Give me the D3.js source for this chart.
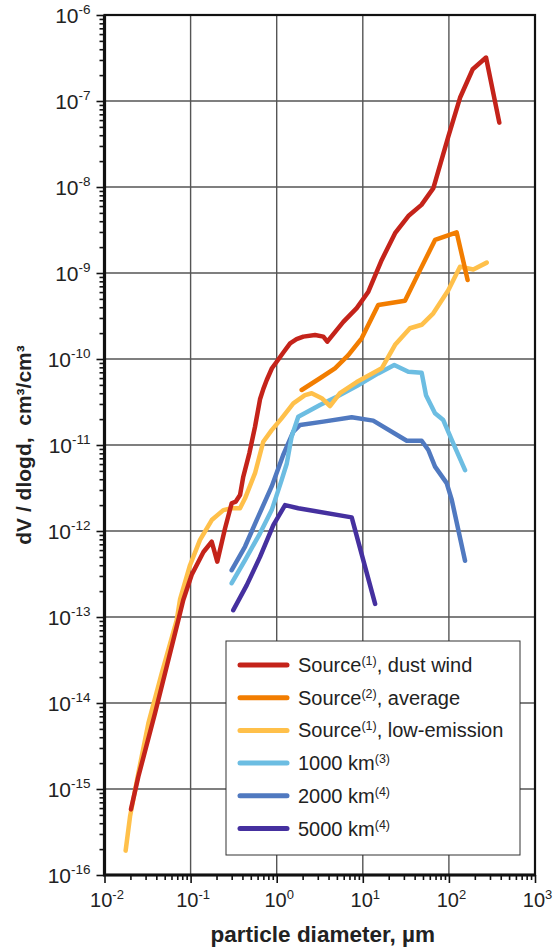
<!DOCTYPE html>
<html>
<head>
<meta charset="UTF-8">
<title>Particle size distribution</title>
<style>
html, body {
    margin: 0;
    padding: 0;
    background-color: #fff;
}
svg {
    display: block;
    font-family: "Liberation Sans", Arial, sans-serif;
}
.grid line {
    stroke: #555;
    stroke-width: 1.4;
}
.series {
    fill: none;
    stroke-width: 4.5;
    stroke-linejoin: round;
    stroke-linecap: round;
}
</style>
</head>
<body>
<div class="wrap"></div>
<script src="https://cdn.jsdelivr.net/npm/d3@7/dist/d3.min.js"></script>
<script>
// series data: diameter (µm) and dV/dlogd (cm³/cm³)
const dustWindX = [0.0203, 0.0247, 0.0386, 0.0527, 0.072, 0.0822, 0.103, 0.141, 0.176, 0.204, 0.251, 0.30, 0.335, 0.375, 0.409, 0.481, 0.56, 0.64, 0.70, 0.766, 0.88, 1.0, 1.2, 1.43, 1.7, 2.04, 2.79, 3.48, 3.87, 5.94, 8.5, 11.6, 16.6, 23.7, 33.8, 48, 66, 98.4, 134.6, 189, 270, 385];
const dustWindY = [5.8e-16, 1.39e-15, 7.6e-15, 2.64e-14, 9.2e-14, 1.58e-13, 3.1e-13, 5.7e-13, 7.5e-13, 4.4e-13, 1.07e-12, 2.1e-12, 2.2e-12, 2.62e-12, 4.28e-12, 8.0e-12, 1.63e-11, 3.4e-11, 4.5e-11, 5.7e-11, 7.8e-11, 9.3e-11, 1.2e-10, 1.52e-10, 1.7e-10, 1.82e-10, 1.9e-10, 1.82e-10, 1.59e-10, 2.7e-10, 3.9e-10, 6.06e-10, 1.42e-9, 2.9e-9, 4.6e-9, 6.2e-9, 9.7e-9, 3.85e-8, 1.09e-7, 2.34e-7, 3.2e-7, 5.6e-8];

const averageX = [1.95, 3.18, 4.75, 6.79, 9.7, 15.1, 30.9, 46.2, 69, 123, 165];
const averageY = [4.36e-11, 5.97e-11, 7.8e-11, 1.11e-10, 1.74e-10, 4.25e-10, 4.76e-10, 1.08e-9, 2.42e-9, 2.97e-9, 8.3e-10];

const lowEmX = [0.0176, 0.0198, 0.0247, 0.0323, 0.0461, 0.069, 0.0754, 0.0984, 0.1286, 0.176, 0.24, 0.30, 0.375, 0.429, 0.56, 0.698, 0.875, 1.14, 1.56, 2.13, 2.55, 3.33, 4.16, 5.43, 8.5, 16.6, 23.7, 35.3, 48.3, 65.9, 98.4, 134.6, 192, 275];
const lowEmY = [1.92e-16, 4.8e-16, 1.52e-15, 5.8e-15, 2.2e-14, 9.2e-14, 1.6e-13, 4.0e-13, 7.9e-13, 1.34e-12, 1.75e-12, 1.84e-12, 1.84e-12, 2.4e-12, 4.7e-12, 1.09e-11, 1.49e-11, 2.04e-11, 3.05e-11, 3.8e-11, 4.0e-11, 3.5e-11, 2.84e-11, 4.0e-11, 5.4e-11, 7.8e-11, 1.46e-10, 2.28e-10, 2.5e-10, 3.4e-10, 6.3e-10, 1.18e-9, 1.1e-9, 1.32e-9];

const km1000X = [0.30, 0.429, 0.64, 0.875, 1.14, 1.31, 1.49, 1.78, 3.18, 4.98, 8.5, 15.1, 23.2, 33.8, 48.3, 54.2, 69, 86, 112, 154];
const km1000Y = [2.47e-13, 4.6e-13, 9.4e-13, 1.75e-12, 3.9e-12, 6.1e-12, 1.25e-11, 2.13e-11, 2.92e-11, 3.65e-11, 4.85e-11, 6.8e-11, 8.5e-11, 7.1e-11, 6.9e-11, 3.8e-11, 2.34e-11, 1.95e-11, 1.05e-11, 5.1e-12];

const km2000X = [0.30, 0.429, 0.61, 0.875, 1.19, 1.56, 1.87, 3.48, 7.43, 13.2, 32.4, 48.3, 57.7, 69, 94.2, 108, 154];
const km2000Y = [3.5e-13, 6.6e-13, 1.47e-12, 3.3e-12, 7.65e-12, 1.43e-11, 1.71e-11, 1.87e-11, 2.1e-11, 1.92e-11, 1.12e-11, 1.12e-11, 8.75e-12, 5.6e-12, 3.6e-12, 2.3e-12, 4.5e-13];

const km5000X = [0.313, 0.449, 0.64, 0.914, 1.25, 1.78, 7.43, 13.9];
const km5000Y = [1.2e-13, 2.35e-13, 5.0e-13, 1.17e-12, 2.0e-12, 1.84e-12, 1.44e-12, 1.42e-13];

const seriesNames = [
    ['Source', '(1)', ', dust wind'],
    ['Source', '(2)', ', average'],
    ['Source', '(1)', ', low-emission'],
    ['1000 km', '(3)', ''],
    ['2000 km', '(4)', ''],
    ['5000 km', '(4)', '']
];
const seriesColors = ['#c4231a', '#f27d00', '#ffc04a', '#6cbde2', '#5079c0', '#45309f'];
const seriesX = [dustWindX, averageX, lowEmX, km1000X, km2000X, km5000X];
const seriesY = [dustWindY, averageY, lowEmY, km1000Y, km2000Y, km5000Y];

const xExponents = [-2, -1, 0, 1, 2, 3];
const yExponents = [-16, -15, -14, -13, -12, -11, -10, -9, -8, -7, -6];

const width = 553, height = 948;
const margin = {left: 104.5, top: 15, right: 18, bottom: 73};
const plotW = width - margin.left - margin.right;
const plotH = height - margin.top - margin.bottom;

const svg = d3.select('.wrap').append('svg')
    .attr('width', width)
    .attr('height', height);

const g = svg.append('g')
    .attr('transform', `translate(${margin.left},${margin.top})`);

const x = d3.scaleLog().domain([1e-2, 1e3]).range([0, plotW]);
const y = d3.scaleLog().domain([1e-16, 1e-6]).range([plotH, 0]);

// minor + major tick values
let xMinor = [], yMinor = [];
for (let e = -2; e < 3; e++) for (let m = 2; m < 10; m++) xMinor.push(m * Math.pow(10, e));
for (let e = -16; e < -6; e++) for (let m = 2; m < 10; m++) yMinor.push(m * Math.pow(10, e));
const xMajor = xExponents.map(e => Math.pow(10, e));
const yMajor = yExponents.map(e => Math.pow(10, e));

// grid
g.append('g').attr('class', 'grid')
    .selectAll('line.v').data(xMajor.slice(1, -1)).enter().append('line')
    .attr('x1', d => x(d)).attr('x2', d => x(d))
    .attr('y1', 0).attr('y2', plotH);
g.select('.grid')
    .selectAll('line.h').data(yMajor.slice(1, -1)).enter().append('line')
    .attr('y1', d => y(d)).attr('y2', d => y(d))
    .attr('x1', 0).attr('x2', plotW);

// axes ticks
const xMinorAxis = g.append('g').attr('transform', `translate(0,${plotH})`)
    .call(d3.axisBottom(x).tickValues(xMinor).tickSize(5).tickFormat(''));
const xMajorAxis = g.append('g').attr('transform', `translate(0,${plotH})`)
    .call(d3.axisBottom(x).tickValues(xMajor).tickSize(8).tickFormat(''));
const yMinorAxis = g.append('g')
    .call(d3.axisLeft(y).tickValues(yMinor).tickSize(5).tickFormat(''));
const yMajorAxis = g.append('g')
    .call(d3.axisLeft(y).tickValues(yMajor).tickSize(8).tickFormat(''));
[xMinorAxis, xMajorAxis, yMinorAxis, yMajorAxis].forEach(a => {
    a.select('.domain').remove();
    a.selectAll('.tick line').attr('stroke', '#111').attr('stroke-width', 1.6);
});

// tick labels with superscript exponents
xMajorAxis.selectAll('.tick').each(function(d, i) {
    const t = d3.select(this).append('text')
        .attr('fill', '#222')
        .attr('x', 2)
        .attr('y', 32)
        .attr('text-anchor', 'middle')
        .style('font-size', '20px');
    t.append('tspan').text('10');
    t.append('tspan').attr('dy', -8).style('font-size', '13px').text(xExponents[i]);
});
yMajorAxis.selectAll('.tick').each(function(d, i) {
    const t = d3.select(this).append('text')
        .attr('fill', '#222')
        .attr('x', -14)
        .attr('y', 7)
        .attr('text-anchor', 'end')
        .style('font-size', '21px');
    t.append('tspan').text('10');
    t.append('tspan').attr('dy', -9).style('font-size', '13.5px').text(yExponents[i]);
});

// series lines, drawn bottom-up so the dust wind curve sits on top
const line = d3.line()
    .x(d => x(d[0]))
    .y(d => y(d[1]));

d3.range(seriesX.length).reverse().forEach(k => {
    const pts = seriesX[k].map((v, i) => [v, seriesY[k][i]]);
    g.append('path')
        .attr('class', 'series')
        .attr('stroke', seriesColors[k])
        .attr('d', line(pts));
});

// frame
g.append('rect')
    .attr('x', 0).attr('y', 0)
    .attr('width', plotW).attr('height', plotH)
    .attr('fill', 'none')
    .attr('stroke', '#111')
    .attr('stroke-width', 2.2);
g.append('path')
    .attr('d', `M0,0V${plotH}H${plotW}`)
    .attr('fill', 'none')
    .attr('stroke', '#111')
    .attr('stroke-width', 3.2);

// legend
const legend = svg.append('g').attr('transform', 'translate(226,641)');
legend.append('rect')
    .attr('width', 294).attr('height', 214)
    .attr('fill', '#fff')
    .attr('stroke', '#333')
    .attr('stroke-width', 1);
seriesNames.forEach((nm, k) => {
    const row = legend.append('g').attr('transform', `translate(0,${24 + k * 32.7})`);
    row.append('line')
        .attr('x1', 14).attr('x2', 61)
        .attr('stroke', seriesColors[k])
        .attr('stroke-width', 5)
        .attr('stroke-linecap', 'round');
    const t = row.append('text')
        .attr('x', 72).attr('y', 7)
        .attr('fill', '#222')
        .style('font-size', '20px');
    t.append('tspan').text(nm[0]);
    t.append('tspan').attr('dy', -7).style('font-size', '12.5px').text(nm[1]);
    if (nm[2]) t.append('tspan').attr('dy', 7).text(nm[2]);
});

// axis titles
svg.append('text')
    .attr('x', margin.left + plotW / 2 + 3)
    .attr('y', 942)
    .attr('text-anchor', 'middle')
    .attr('fill', '#222')
    .style('font-size', '22.5px')
    .style('font-weight', 'bold')
    .text('particle diameter, µm');

const yTitle = svg.append('text')
    .attr('transform', `translate(31,${margin.top + plotH / 2}) rotate(-90)`)
    .attr('text-anchor', 'middle')
    .attr('fill', '#222')
    .style('font-size', '21px')
    .style('font-weight', 'bold');
yTitle.append('tspan').text('dV / dlogd,\u00a0 cm³/cm³');
</script>
</body>
</html>
